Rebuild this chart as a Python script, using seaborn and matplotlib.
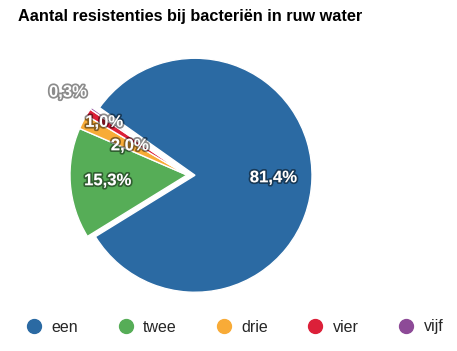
import numpy as np
import matplotlib
matplotlib.use("Agg")
import matplotlib.pyplot as plt
import matplotlib.patheffects as pe
from matplotlib.lines import Line2D
import seaborn as sns

categories = ["een", "twee", "drie", "vier", "vijf"]
values = [81.4, 15.3, 2.0, 1.0, 0.3]
value_labels = ["81,4%", "15,3%", "2,0%", "1,0%", "0,3%"]
colors = ["#2b6aa3", "#56ad57", "#f8ab37", "#dc2039", "#8d4a97"]
title = "Aantal resistenties bij bacteriën in ruw water"

sns.set_theme(style="white")
plt.rcParams["font.family"] = ["Liberation Sans", "DejaVu Sans"]

W, H = 457, 351
fig = plt.figure(figsize=(W / 100, H / 100), dpi=100)
ax = fig.add_axes([0, 0, 1, 1])

cx, cy, R = 187, H - 175, 117
explode = [8, 0, 0, 0, 0]  # data units (pixels)
start = 144.7
wedges, _ = ax.pie(values, colors=colors, startangle=start, counterclock=False,
                   radius=R, center=(cx, cy), explode=explode,
                   wedgeprops=dict(edgecolor="white", linewidth=1.0),
                   frame=True)
ax.set_xlim(0, W)
ax.set_ylim(0, H)
ax.set_aspect("equal")
ax.axis("off")

label_r = [0.67, 0.68, 0.55, 0.84, 1.24]
for w, lab, fr in zip(wedges, value_labels, label_r):
    mid = np.deg2rad((w.theta1 + w.theta2) / 2)
    x0, y0 = w.center
    tx = x0 + fr * R * np.cos(mid)
    ty = y0 + fr * R * np.sin(mid)
    ax.text(tx, ty, lab, ha="center", va="center", color="white",
            fontsize=12, fontweight="bold",
            path_effects=[pe.withStroke(linewidth=2.5, foreground=(0, 0, 0, 0.45))])

fig.text(18 / W, 1 - 17 / H, title, ha="left", va="center",
         fontsize=11.7, fontweight="bold", color="black")

handles = [Line2D([0], [0], marker="o", linestyle="none", markersize=10,
                  markerfacecolor=c, markeredgecolor=c) for c in colors]
fig.legend(handles, categories, loc="center", bbox_to_anchor=(234 / W, 1 - 327 / H),
           ncol=5, frameon=False, fontsize=11.5, handletextpad=0.5,
           columnspacing=2.35, handlelength=1.2)

fig.savefig("out.png", dpi=100)
